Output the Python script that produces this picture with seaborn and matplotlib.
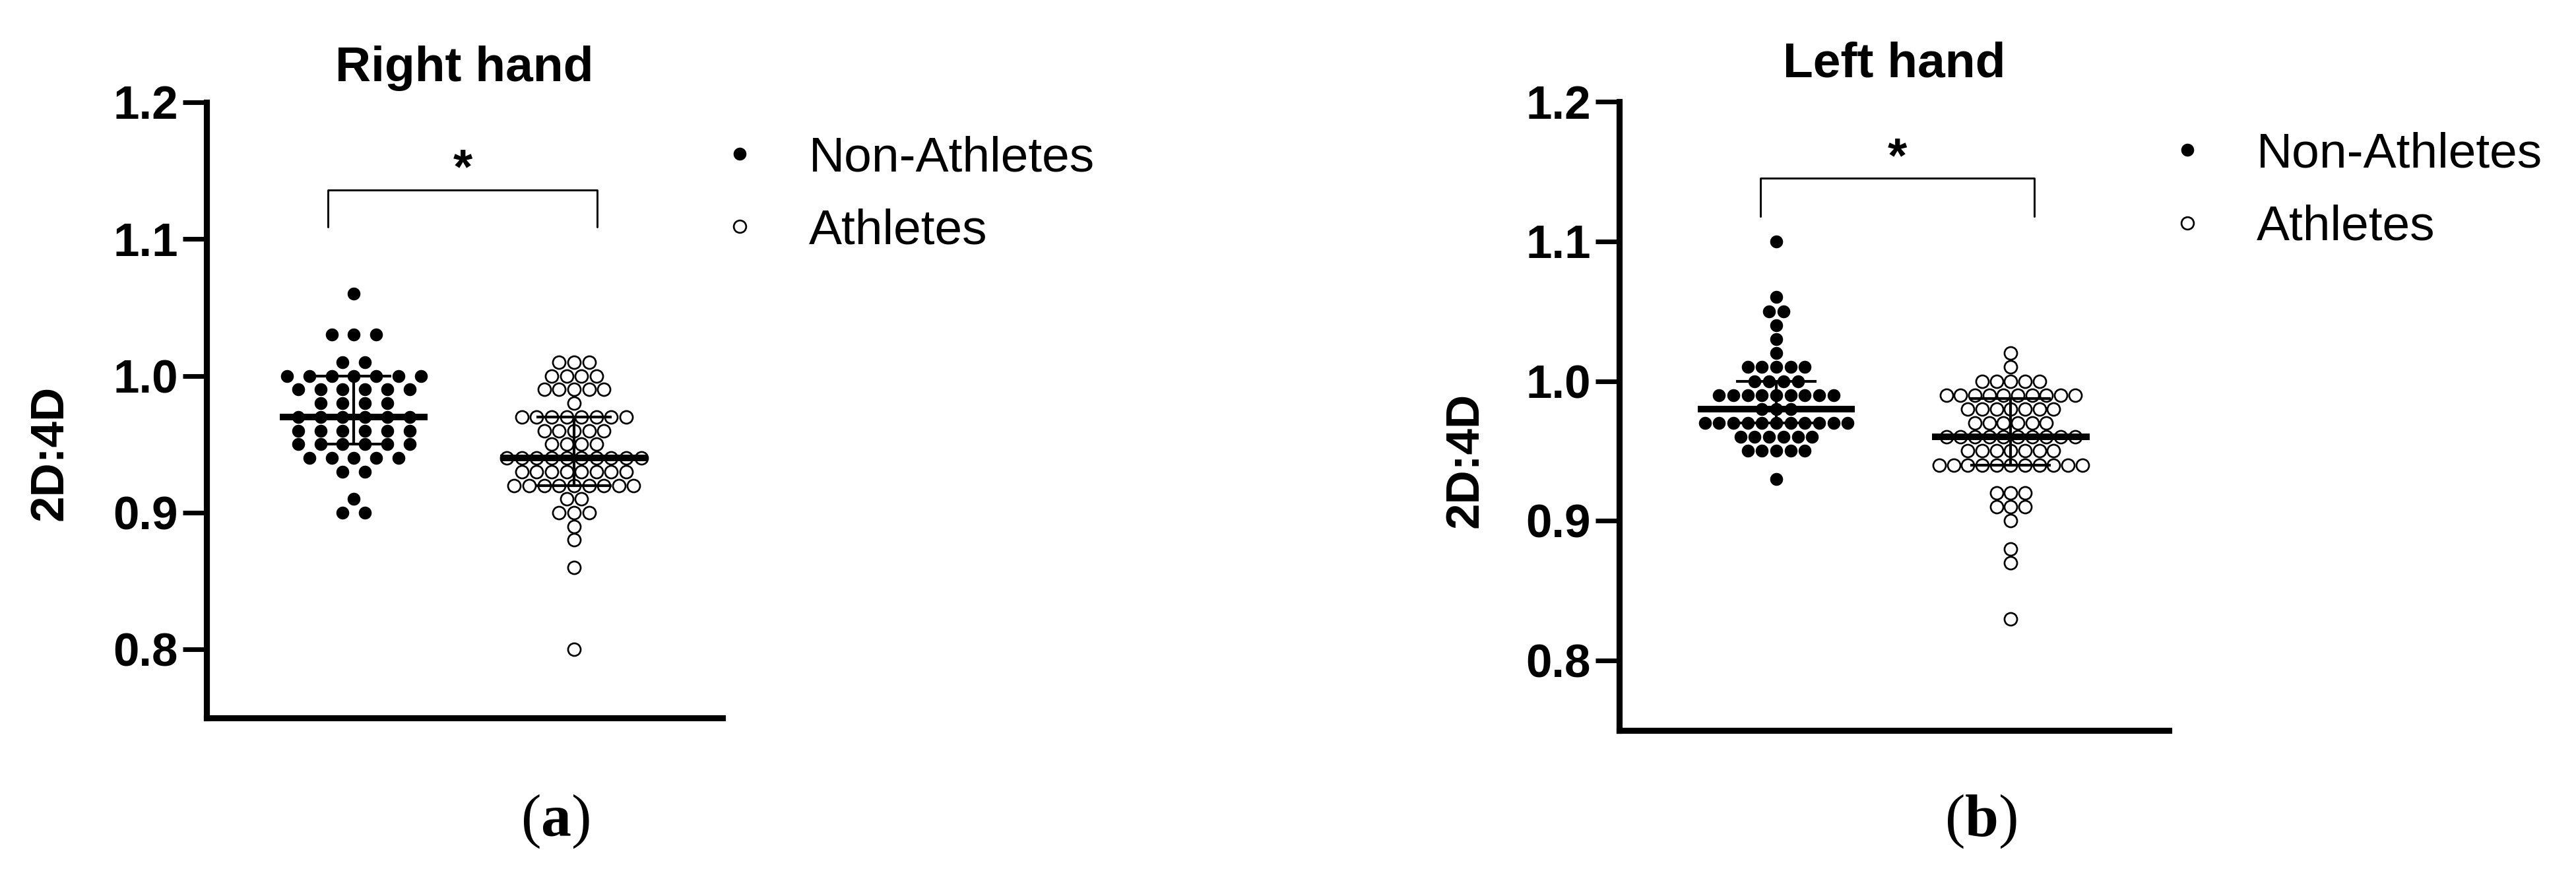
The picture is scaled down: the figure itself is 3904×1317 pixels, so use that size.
import numpy as np
import pandas as pd
import matplotlib
matplotlib.use("Agg")
import matplotlib.pyplot as plt
import seaborn as sns
from matplotlib.lines import Line2D

# 2D:4D ratios, binned at 0.01, with number of subjects at each value
# (a) right hand
right_na_values = [0.90, 0.91, 0.93, 0.94, 0.95, 0.96, 0.97, 0.98, 0.99, 1.00, 1.01, 1.03, 1.06]
right_na_counts = [2, 1, 2, 5, 6, 6, 6, 4, 6, 7, 2, 3, 1]
right_a_values = [0.80, 0.86, 0.88, 0.89, 0.90, 0.91, 0.92, 0.93, 0.94, 0.95, 0.96, 0.97, 0.98, 0.99, 1.00, 1.01]
right_a_counts = [1, 1, 1, 1, 3, 2, 9, 8, 10, 4, 5, 8, 1, 5, 4, 3]

# (b) left hand
left_na_values = [0.93, 0.95, 0.96, 0.97, 0.98, 0.99, 1.00, 1.01, 1.02, 1.03, 1.04, 1.05, 1.06, 1.10]
left_na_counts = [1, 5, 6, 11, 3, 9, 4, 5, 1, 1, 1, 2, 1, 1]
left_a_values = [0.83, 0.87, 0.88, 0.90, 0.91, 0.92, 0.94, 0.95, 0.96, 0.97, 0.98, 0.99, 1.00, 1.01, 1.02]
left_a_counts = [1, 1, 1, 1, 3, 3, 11, 7, 10, 6, 7, 10, 5, 1, 1]

groups = ['Non-Athletes', 'Athletes']
yticks = [0.8, 0.9, 1.0, 1.1, 1.2]
ytick_labels = ['0.8', '0.9', '1.0', '1.1', '1.2']

sns.set_style("ticks")
plt.rcParams['font.family'] = ['Liberation Sans', 'DejaVu Sans']
plt.rcParams['mathtext.fontset'] = 'custom'
plt.rcParams['mathtext.rm'] = 'Liberation Serif'
plt.rcParams['mathtext.bf'] = 'Liberation Serif:bold'
for k in ['text.color', 'axes.labelcolor', 'xtick.color', 'ytick.color', 'axes.edgecolor']:
    plt.rcParams[k] = 'black'

SPREAD = 0.61  # width of the widest row of dots, in category units


def build_frame(na_vals, na_counts, a_vals, a_counts):
    # Prism-like column scatter: dots of one value sit on one row, centred
    rows = []
    for gi, (vals, cnts) in enumerate([(na_vals, na_counts), (a_vals, a_counts)]):
        step = SPREAD / (max(cnts) - 1)
        for v, c in zip(vals, cnts):
            for o in (np.arange(c) - (c - 1) / 2) * step:
                rows.append({'group': groups[gi], 'x': gi + o, 'ratio': v})
    return pd.DataFrame(rows)


def draw_panel(ax, df, title, title_pad, bx0, bx1, by, label_x, legend_x, legend_y):
    na = df[df.group == 'Non-Athletes']
    at = df[df.group == 'Athletes']
    sns.scatterplot(data=na, x='x', y='ratio', ax=ax, color='black', s=22,
                    linewidth=0, zorder=2, legend=False)
    sns.scatterplot(data=at, x='x', y='ratio', ax=ax, color='white', edgecolor='black',
                    s=21, linewidth=0.65, zorder=2, legend=False)

    # median with interquartile range
    for gi, g in enumerate(groups):
        vals = df.loc[df.group == g, 'ratio'].to_numpy()
        q1, med, q3 = np.percentile(vals, [25, 50, 75], method='weibull')
        ax.hlines(med, gi - 0.336, gi + 0.336, color='black', lw=2.4, zorder=4)
        ax.vlines(gi, q1, q3, color='black', lw=1.0, zorder=4)
        ax.hlines([q1, q3], gi - 0.171, gi + 0.171, color='black', lw=1.0, zorder=4)

    # significance bracket
    ax.plot([bx0, bx0, bx1, bx1], [by - 0.027, by, by, by - 0.027], color='black',
            lw=0.7, clip_on=False)
    ax.text((bx0 + bx1) / 2, by + 0.005, '*', ha='center', va='baseline',
            fontsize=18, fontweight='bold')

    ax.set_xlim(-0.67, 1.675)
    ax.set_ylim(0.75, 1.2)
    ax.set_xticks([])
    ax.set_yticks(yticks)
    ax.set_yticklabels(ytick_labels, fontsize=17, fontweight='bold')
    ax.tick_params(axis='y', length=8.6, width=1.7, pad=1.7)
    ax.set_xlabel('')
    ax.set_ylabel('2D:4D', fontsize=17, fontweight='bold')
    ax.yaxis.set_label_coords(label_x, 0.43)
    ax.set_title(title, fontsize=18, fontweight='bold', pad=title_pad)
    sns.despine(ax=ax)
    for s in ['left', 'bottom']:
        ax.spines[s].set_linewidth(2.2)

    handles = [
        Line2D([], [], marker='o', ls='none', color='black', markersize=4.7, markeredgewidth=0),
        Line2D([], [], marker='o', ls='none', markerfacecolor='white', markeredgecolor='black',
               markersize=4.5, markeredgewidth=0.65),
    ]
    ax.legend(handles, groups, loc='center left', bbox_to_anchor=(legend_x, legend_y),
              frameon=False, fontsize=18, handlelength=1.0, handletextpad=0.9,
              borderpad=0, borderaxespad=0, labelspacing=0.55, numpoints=1)


W, H = 3904, 1317
fig = plt.figure(figsize=(W / 300, H / 300), dpi=300)
ax1 = fig.add_axes([313 / W, 1 - 1088 / H, 782 / W, 933 / H])
ax2 = fig.add_axes([2454 / W, 1 - 1107 / H, 833 / W, 953 / H])

df_right = build_frame(right_na_values, right_na_counts, right_a_values, right_a_counts)
df_left = build_frame(left_na_values, left_na_counts, left_a_values, left_a_counts)

draw_panel(ax1, df_right, 'Right hand', 7.7, -0.117, 1.105, 1.136, -0.26, 0.985, 0.850)
draw_panel(ax2, df_left, 'Left hand', 9.1, -0.068, 1.10, 1.145, -0.24, 0.9886, 0.858)

fig.text(841 / W, 1 - 1245 / H, r'$(\mathbf{a})$', ha='center', va='center', fontsize=22)
fig.text(3002 / W, 1 - 1245 / H, r'$(\mathbf{b})$', ha='center', va='center', fontsize=22)

fig.savefig('out.png', dpi=300)
